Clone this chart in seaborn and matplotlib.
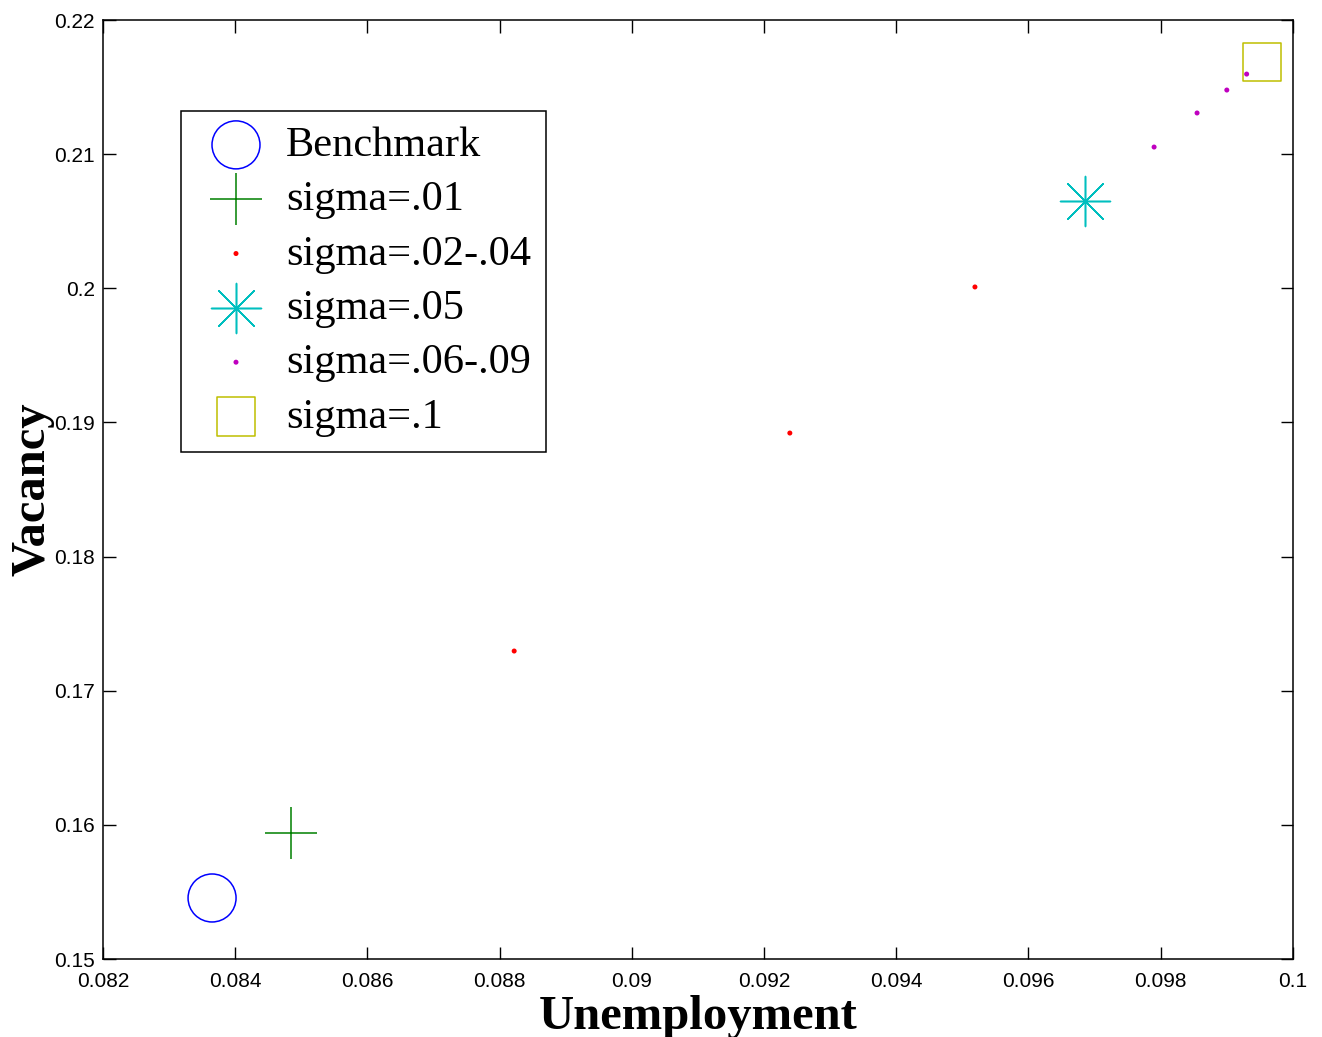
import matplotlib
matplotlib.use("Agg")
import matplotlib.pyplot as plt
import seaborn as sns

# values
bench_u = [0.08365]
bench_v = [0.15455]
s01_u = [0.08484]
s01_v = [0.15939]
s0204_u = [0.08822, 0.09239, 0.09519]
s0204_v = [0.17296, 0.18921, 0.20010]
s05_u = [0.09685]
s05_v = [0.20651]
s0609_u = [0.09790, 0.09855, 0.09900, 0.09930]
s0609_v = [0.21053, 0.21307, 0.21478, 0.21597]
s1_u = [0.09953]
s1_v = [0.21687]

xticks = [0.082, 0.084, 0.086, 0.088, 0.09, 0.092, 0.094, 0.096, 0.098, 0.1]
xtick_labels = ["0.082", "0.084", "0.086", "0.088", "0.09", "0.092", "0.094", "0.096", "0.098", "0.1"]
yticks = [0.15, 0.16, 0.17, 0.18, 0.19, 0.2, 0.21, 0.22]
ytick_labels = ["0.15", "0.16", "0.17", "0.18", "0.19", "0.2", "0.21", "0.22"]

sns.set_style("ticks")
plt.rcParams["font.family"] = ["Liberation Sans", "DejaVu Sans"]
plt.rcParams["text.color"] = "black"
plt.rcParams["axes.labelcolor"] = "black"

fig = plt.figure(figsize=(13.22, 10.37), dpi=100)
ax = fig.add_axes([0.0779, 0.0752, 0.9001, 0.9055])

sns.scatterplot(x=bench_u, y=bench_v, ax=ax, marker="o", s=1194,
                facecolors="none", edgecolor="#0000ff", linewidth=1.1, label="Benchmark")
sns.scatterplot(x=s01_u, y=s01_v, ax=ax, marker="+", s=1350,
                color="#008000", linewidth=1.1, label="sigma=.01")
sns.scatterplot(x=s0204_u, y=s0204_v, ax=ax, marker="o", s=13,
                color="#ff0000", edgecolor="none", label="sigma=.02-.04")
sns.scatterplot(x=s05_u, y=s05_v, ax=ax, marker=(8, 2, 0), s=1296,
                color="#00bfbf", linewidth=1.1, label="sigma=.05")
sns.scatterplot(x=s0609_u, y=s0609_v, ax=ax, marker="o", s=13,
                color="#bf00bf", edgecolor="none", label="sigma=.06-.09")
sns.scatterplot(x=s1_u, y=s1_v, ax=ax, marker="s", s=750,
                facecolors="none", edgecolor="#bfbf00", linewidth=1.1, label="sigma=.1")

ax.set_xlim(0.082, 0.1)
ax.set_ylim(0.15, 0.22)
ax.set_xticks(xticks)
ax.set_xticklabels(xtick_labels)
ax.set_yticks(yticks)
ax.set_yticklabels(ytick_labels)
ax.tick_params(direction="in", length=9, width=1, top=True, right=True,
               labelsize=15, colors="black")
ax.tick_params(axis="x", pad=9)
ax.tick_params(axis="y", pad=6)
for sp in ax.spines.values():
    sp.set_visible(True)
    sp.set_linewidth(1.1)
    sp.set_color("black")

ax.set_xlabel("Unemployment", family="Liberation Serif", fontsize=35, fontweight="bold")
ax.set_ylabel("Vacancy", family="Liberation Serif", fontsize=35, fontweight="bold")
ax.xaxis.set_label_coords(0.5, -0.038)
ax.yaxis.set_label_coords(-0.041, 0.5)

leg = ax.legend(loc="upper left", bbox_to_anchor=(0.0655, 0.903), borderaxespad=0,
                prop={"family": "Liberation Serif", "size": 30.5},
                frameon=True, fancybox=False, framealpha=1, edgecolor="black",
                borderpad=0.36, labelspacing=0.37, handlelength=1.88,
                handletextpad=0.24, scatterpoints=1)
leg.get_frame().set_linewidth(1.1)

plt.savefig("out.png", dpi=100)
plt.close()
